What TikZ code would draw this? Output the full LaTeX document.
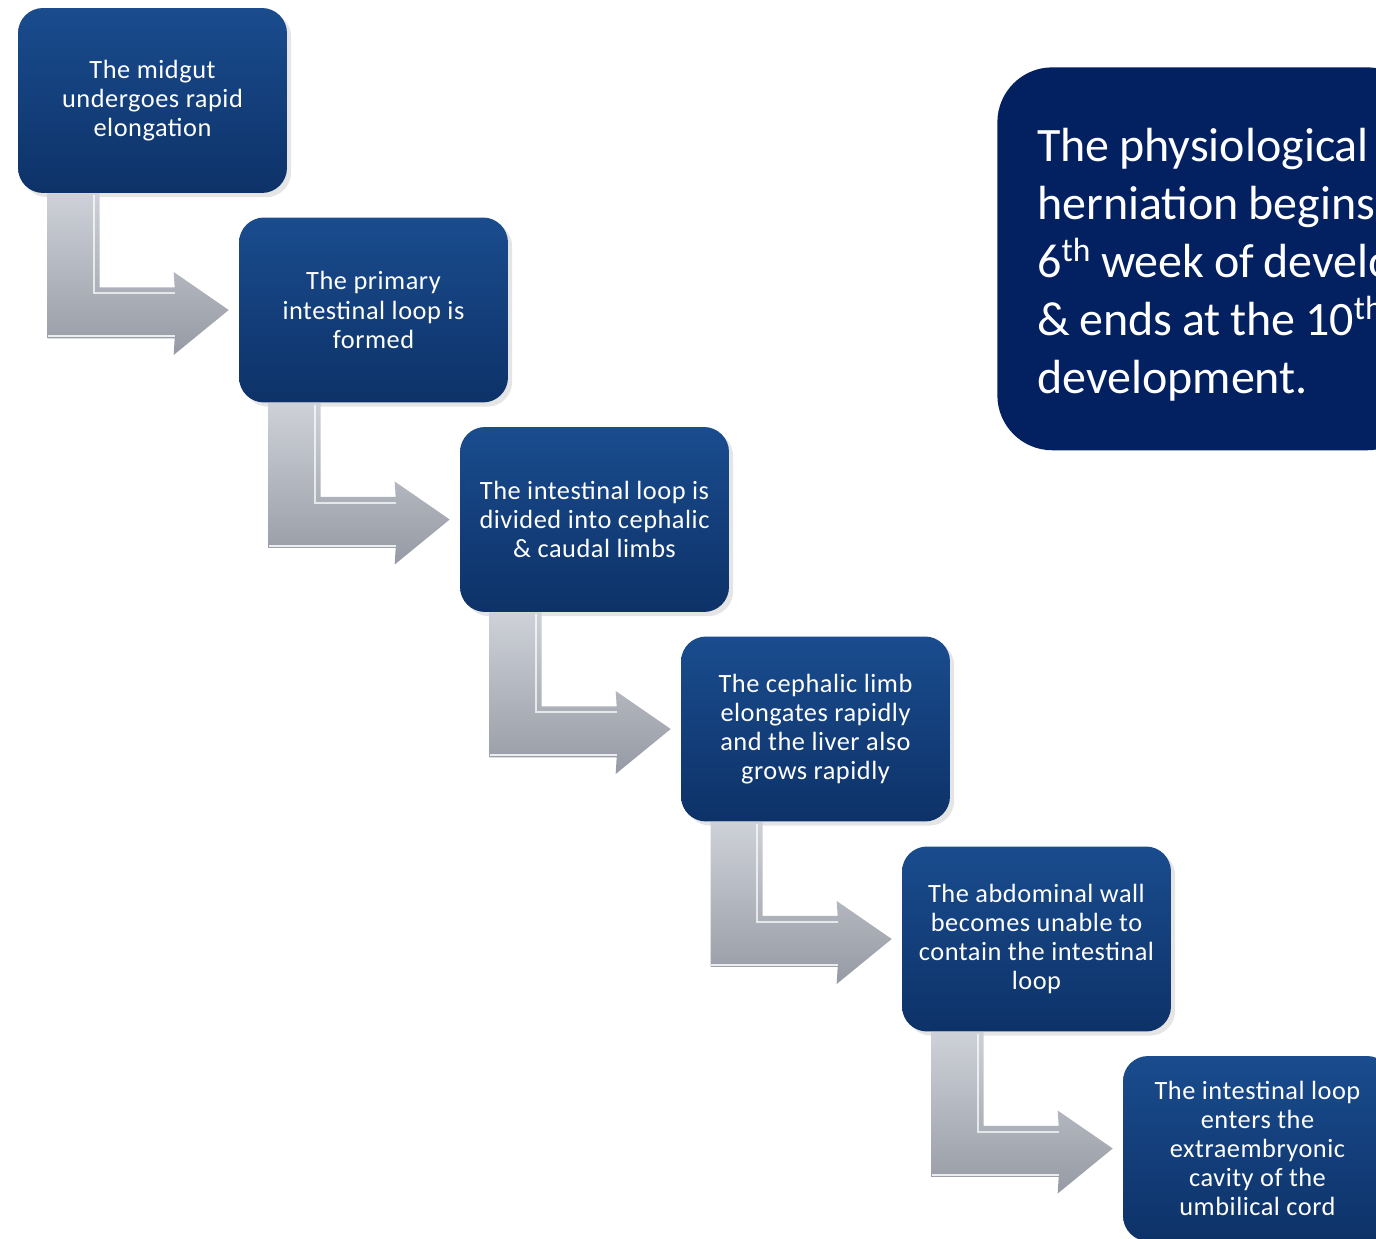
\documentclass[tikz,border=0pt]{standalone}
\usepackage{fontspec}
\setmainfont{Carlito}
\usetikzlibrary{calc}
\usetikzlibrary{shadows}

\definecolor{boxtop}{RGB}{26,76,142}
\definecolor{boxbottom}{RGB}{13,50,104}
\definecolor{notefill}{RGB}{3,32,96}
\definecolor{arrowlight}{RGB}{206,209,216}
\definecolor{arrowdark}{RGB}{150,154,164}

\newcommand\notefont{\fontsize{27.3}{33}\selectfont}
\newcommand\tightspaces{\spaceskip=0.2em\relax}

\tikzset{
  stage/.style={rectangle, rounded corners=0.5cm, minimum width=5.38cm, minimum height=3.7cm,
    top color=boxtop, bottom color=boxbottom, text=white, align=center,
    font=\fontsize{15}{16.6}\selectfont\addfontfeature{LetterSpace=2}, drop shadow={opacity=0.2}},
  note/.style={rectangle, rounded corners=1.1cm, fill=notefill, anchor=north west,
    minimum width=8.5cm, minimum height=7.66cm},
  notetext/.style={text=white, align=left, inner sep=0pt, anchor=west, font=\notefont},
  bentarrow/.style={top color=arrowlight, bottom color=arrowdark},
}

\begin{document}
\begin{tikzpicture}[x=0.02cm, y=-0.02cm]

\def\bentarrow#1#2{
  \path[bentarrow] ($(#1.south west)+(30,0)$) -- ($(#1.south west)+(30,145)$) -- ($(#1.south west)+(157,145)$) -- ($(#2.west)+(-65,45)$) -- ($(#2.west)+(-10,0)$) -- ($(#2.west)+(-65,-38)$) -- ($(#1.south west)+(157,94)$) -- ($(#1.south west)+(82,94)$) -- ($(#1.south west)+(82,0)$) -- cycle;
  \draw[white, opacity=0.7, line width=1.2pt] ($(#1.south west)+(76,2)$) -- ($(#1.south west)+(76,100)$) -- ($(#1.south west)+(157,100)$);
  \draw[white, opacity=0.8, line width=1.2pt] ($(#1.south west)+(30,143)$) -- ($(#1.south west)+(157,143)$);
}

\clip (0,0) rectangle (1376,1239);
\fill[white] (0,0) rectangle (1376,1239);

\node[stage] (S1) at (152.5, 100.5) {The midgut\\undergoes rapid\\elongation};
\node[stage] (S2) at (373.5, 310) {The primary\\intestinal loop is\\formed};
\node[stage] (S3) at (594.5, 519.5) {The intestinal loop is\\divided into cephalic\\\& caudal limbs};
\node[stage] (S4) at (815.5, 729) {The cephalic limb\\elongates rapidly\\and the liver also\\grows rapidly};
\node[stage] (S5) at (1036.5, 939) {The abdominal wall\\becomes unable to\\contain the intestinal\\loop};
\node[stage] (S6) at (1257.5, 1148.5) {The intestinal loop\\enters the\\extraembryonic\\cavity of the\\umbilical cord};

\node[note] (N) at (997, 67) {};
\node[notetext] (NT) at ($(N.west)+(40,6)$) {\tightspaces The physiological\\\tightspaces herniation begins\\\tightspaces 6\textsuperscript{th} week of development\\\tightspaces \& ends at the 10\textsuperscript{th}\\development.};

\bentarrow{S1}{S2}
\bentarrow{S2}{S3}
\bentarrow{S3}{S4}
\bentarrow{S4}{S5}
\bentarrow{S5}{S6}

\end{tikzpicture}
\end{document}
